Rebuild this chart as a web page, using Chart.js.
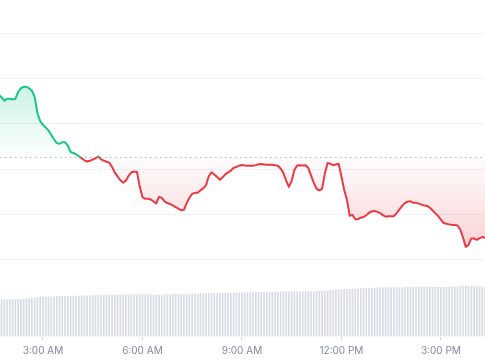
<!DOCTYPE html>
<html>
<head>
<meta charset="utf-8">
<script src="https://cdn.jsdelivr.net/npm/chart.js@4.4.1/dist/chart.umd.min.js"></script>
<style>
  html, body { margin: 0; padding: 0; background: #ffffff; }
  #wrap { width: 485px; height: 360px; }
</style>
</head>
<body>
<div id="wrap"><canvas id="c" width="485" height="360"></canvas></div>
<script>
// ---- data ----
const startHour = 1 + 40 / 60;   // first sample 1:40 AM
const stepMinutes = 5;
const tickHours = [3, 6, 9, 12, 15];
const baselinePrice = 122.66;
const gridPrices = [100, 110, 120, 130, 140, 150];

const prices = [
  136.40, 135.85, 135.08, 135.52, 135.52, 135.41, 135.47, 137.00, 137.83, 138.16,
  138.16, 137.81, 137.28, 135.87, 132.32, 130.60, 129.78, 129.19, 128.50, 127.51,
  126.60, 125.74, 125.59, 125.94, 125.92, 125.21, 123.78, 123.56, 123.25, 122.85,
  122.39, 121.95, 121.68, 121.84, 122.13, 122.37, 122.83, 122.17, 121.86, 121.64,
  121.44, 120.47, 119.24, 118.40, 117.56, 117.01, 117.47, 118.53, 119.30, 119.41,
  119.41, 116.21, 113.83, 113.46, 113.46, 113.32, 112.88, 112.46, 113.90, 113.68,
  112.91, 112.53, 112.31, 112.02, 111.65, 111.29, 110.92, 111.03, 112.51, 113.70,
  114.54, 114.78, 114.78, 115.33, 115.75, 116.48, 118.44, 119.30, 118.82, 118.29,
  117.67, 118.20, 118.84, 119.28, 119.68, 120.32, 120.49, 120.76, 120.91, 120.82,
  120.74, 120.74, 120.74, 120.89, 121.09, 121.13, 121.05, 120.96, 120.96, 120.96,
  120.87, 120.74, 120.14, 119.13, 117.49, 116.10, 117.43, 119.85, 120.80, 120.85,
  120.80, 120.87, 120.30, 118.64, 116.99, 115.68, 115.35, 115.66, 119.02, 121.35,
  121.20, 120.85, 121.02, 121.18, 118.42, 115.40, 113.24, 109.75, 109.93, 108.96,
  108.98, 109.31, 109.46, 109.84, 110.39, 110.68, 110.79, 110.59, 110.32, 109.86,
  109.51, 109.64, 109.62, 109.64, 110.30, 111.12, 111.91, 112.57, 112.82, 112.93,
  112.57, 112.57, 112.40, 112.18, 112.00, 111.89, 111.49, 110.88, 110.26, 109.66,
  108.89, 108.12, 107.96, 107.83, 107.72, 107.72, 107.59, 106.71, 104.94, 102.87,
  103.31, 104.74, 104.72, 104.43, 104.81, 105.03, 104.85
];

const volumes = [
  30.4, 30.5, 30.5, 30.6, 30.7, 30.8, 30.8, 30.9, 31.0, 31.2,
  31.3, 31.6, 31.9, 32.2, 32.5, 32.7, 32.9,
  33.0, 33.1, 33.1, 33.2, 33.2, 33.3,
  33.4, 33.4, 33.5, 33.5, 33.6, 33.6, 33.7, 33.7, 33.8, 33.9, 33.9, 34.0, 34.0, 34.1, 34.2,
  34.3, 34.3, 34.4, 34.4, 34.5, 34.5, 34.6, 34.6, 34.7, 34.7, 34.8, 34.8, 34.9, 34.9, 35.0,
  34.9, 34.8, 34.8, 34.7, 34.7, 34.6,
  34.7, 34.8, 34.8, 34.9, 34.9, 35.0, 35.1, 35.1, 35.2, 35.3, 35.3, 35.4, 35.5, 35.5, 35.6, 35.6, 35.7, 35.8,
  35.9, 35.9, 36.0, 36.0, 36.1, 36.1, 36.2, 36.2, 36.3, 36.3, 36.4, 36.4, 36.5, 36.5, 36.6, 36.6, 36.6, 36.7,
  36.8, 36.8, 36.9, 36.9, 36.9, 37.0, 37.0, 37.0, 37.1, 37.1, 37.1, 37.2, 37.2, 37.2, 37.3, 37.3, 37.3, 37.4, 37.4, 37.4, 37.5, 37.5,
  37.7, 37.9, 38.1, 38.3, 38.5, 38.7, 38.9, 39.0, 39.2,
  39.3, 39.4, 39.5, 39.6, 39.7, 39.8, 39.9, 40.0, 40.1, 40.2, 40.3, 40.4, 40.5, 40.6, 40.8,
  40.8, 40.8, 40.8, 40.8, 40.8, 40.8, 40.9, 40.9, 40.9, 40.9, 40.9, 40.9, 40.9, 40.9, 40.9, 40.9, 40.9, 40.9, 40.9, 40.9,
  41.0, 41.1, 41.2, 41.3, 41.4, 41.5, 41.6, 41.7, 41.9, 42.0,
  41.8, 41.7, 41.5, 41.4, 41.3, 41.2
];

// time of each 5-minute sample, in hours
const times = prices.map((_, i) => startHour + i * stepMinutes / 60);

const GREEN = '#16c784';
const RED = '#ea3943';

function hourLabel(h) {
  const hh = Math.round(h) % 24;
  const suffix = hh < 12 ? 'AM' : 'PM';
  const h12 = hh % 12 === 0 ? 12 : hh % 12;
  return h12 + ':00 ' + suffix;
}

function lineGradient(context) {
  const chart = context.chart;
  const area = chart.chartArea;
  if (!area) return GREEN;
  const yb = chart.scales.y.getPixelForValue(baselinePrice);
  const s = Math.min(1, Math.max(0, (yb - area.top) / (area.bottom - area.top)));
  const g = chart.ctx.createLinearGradient(0, area.top, 0, area.bottom);
  g.addColorStop(0, GREEN);
  g.addColorStop(s, GREEN);
  g.addColorStop(s, RED);
  g.addColorStop(1, RED);
  return g;
}

function fillGradient(context) {
  const chart = context.chart;
  const area = chart.chartArea;
  if (!area) return 'rgba(0,0,0,0)';
  const ys = chart.scales.y;
  const yTop = ys.getPixelForValue(Math.max(...prices));
  const yb = ys.getPixelForValue(baselinePrice);
  const yBot = ys.getPixelForValue(Math.min(...prices));
  const H = area.bottom - area.top;
  const f = (p) => Math.min(1, Math.max(0, (p - area.top) / H));
  const g = chart.ctx.createLinearGradient(0, area.top, 0, area.bottom);
  g.addColorStop(0, 'rgba(22,199,132,0.24)');
  g.addColorStop(f(yTop), 'rgba(22,199,132,0.22)');
  g.addColorStop(f(yb) - 0.001, 'rgba(22,199,132,0.01)');
  g.addColorStop(f(yb), 'rgba(234,57,67,0.01)');
  g.addColorStop(f(yBot), 'rgba(234,57,67,0.22)');
  g.addColorStop(1, 'rgba(234,57,67,0.24)');
  return g;
}

const baselinePlugin = {
  id: 'baselinePlugin',
  beforeDatasetsDraw(chart) {
    const { ctx, chartArea } = chart;
    const y = Math.round(chart.scales.y.getPixelForValue(baselinePrice)) + 0.5;
    ctx.save();
    ctx.strokeStyle = '#b3bac7';
    ctx.lineWidth = 1;
    ctx.setLineDash([1.5, 3.5]);
    ctx.beginPath();
    ctx.moveTo(chartArea.left, y);
    ctx.lineTo(chartArea.right, y);
    ctx.stroke();
    ctx.restore();
  }
};

new Chart(document.getElementById('c'), {
  type: 'line',
  data: {
    labels: times,
    datasets: [
      {
        type: 'line',
        label: 'Price',
        data: times.map((t, i) => ({ x: t, y: prices[i] })),
        yAxisID: 'y',
        borderColor: lineGradient,
        backgroundColor: fillGradient,
        fill: { target: { value: baselinePrice } },
        borderWidth: 2,
        pointRadius: 0,
        tension: 0,
        borderJoinStyle: 'round',
        borderCapStyle: 'round',
        order: 0
      },
      {
        type: 'bar',
        label: 'Volume',
        data: times.map((t, i) => ({ x: t, y: volumes[i] })),
        yAxisID: 'y2',
        backgroundColor: '#d6dbe4',
        barThickness: 1,
        order: 1
      }
    ]
  },
  options: {
    responsive: false,
    animation: false,
    devicePixelRatio: 1,
    layout: { padding: 0 },
    plugins: { legend: { display: false }, tooltip: { enabled: false } },
    scales: {
      x: {
        type: 'linear',
        min: 1.704,
        max: 16.33,
        offset: false,
        afterBuildTicks: (scale) => { scale.ticks = tickHours.map(v => ({ value: v })); },
        afterFit: (scale) => { scale.height = 23.5; },
        grid: { drawOnChartArea: false, drawTicks: true, tickLength: 4, color: '#d5d9e0', offset: false },
        border: { display: false },
        ticks: {
          padding: 4,
          color: '#808a9d',
          font: { family: 'Inter', size: 10 },
          maxRotation: 0,
          autoSkip: false,
          callback: (v) => hourLabel(v)
        }
      },
      y: {
        type: 'linear',
        position: 'left',
        min: 83.12,
        max: 157.28,
        afterBuildTicks: (scale) => { scale.ticks = gridPrices.map(v => ({ value: v })); },
        grid: { color: '#eff1f4', drawTicks: false, lineWidth: 1 },
        border: { display: false },
        ticks: { display: false }
      },
      y2: {
        type: 'linear',
        display: false,
        min: 0,
        max: 280
      }
    }
  },
  plugins: [baselinePlugin]
});
</script>
</body>
</html>
